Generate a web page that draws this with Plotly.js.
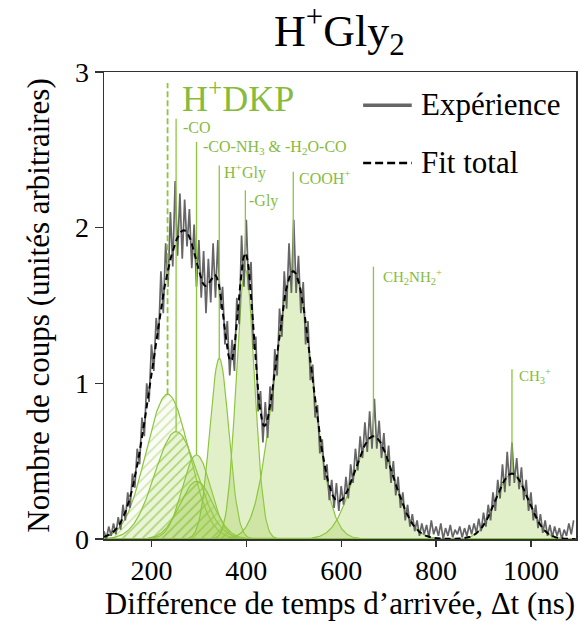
<!DOCTYPE html>
<html>
<head>
<meta charset="utf-8">
<script src="https://cdn.plot.ly/plotly-3.0.1.min.js"></script>
<style>html,body{margin:0;padding:0;background:#fff;}#chart{width:585px;height:637px;}</style>
</head>
<body>
<div id="chart"></div>
<script>
// ---------------- DATA ----------------
// Experimental spectrum: counts sampled every 5 ns starting at 100 ns
const expStart = 100;
const expStep = 5;
const expCounts = [
  0.05,0.00,0.08,0.02,0.10,0.03,0.14,0.06,0.22,0.12,0.30,0.20,0.42,0.33,0.58,0.48,0.78,0.66,1.00,0.88,
  1.25,1.08,1.42,1.28,1.72,1.45,1.90,1.62,2.10,1.75,2.30,1.82,2.22,1.80,2.18,1.88,2.12,1.74,2.02,1.62,
  1.92,1.55,1.85,1.45,1.80,1.52,1.90,1.55,1.92,1.48,1.62,1.25,1.40,1.05,1.28,1.08,1.55,1.38,1.95,1.62,
  2.05,1.60,1.78,1.22,1.30,0.82,0.95,0.62,0.88,0.65,0.98,0.82,1.22,1.05,1.48,1.30,1.72,1.48,1.90,1.58,
  2.05,1.58,1.82,1.45,1.65,1.25,1.40,1.02,1.12,0.78,0.86,0.55,0.64,0.38,0.48,0.25,0.38,0.20,0.36,0.18,
  0.34,0.22,0.40,0.26,0.48,0.36,0.58,0.44,0.66,0.52,0.75,0.56,0.82,0.58,0.90,0.58,0.76,0.52,0.68,0.45,
  0.60,0.36,0.50,0.28,0.40,0.20,0.30,0.12,0.22,0.08,0.16,0.05,0.12,0.02,0.10,0.03,0.09,0.01,0.12,0.03,
  0.08,0.02,0.10,0.00,0.07,0.02,0.09,0.01,0.06,0.03,0.08,0.01,0.07,0.02,0.09,0.03,0.10,0.04,0.13,0.05,
  0.17,0.08,0.22,0.12,0.30,0.18,0.38,0.26,0.48,0.30,0.56,0.34,0.62,0.36,0.52,0.32,0.46,0.25,0.38,0.18,
  0.30,0.12,0.22,0.07,0.16,0.04,0.12,0.02,0.09,0.01,0.08,0.02,0.07,0.00,0.06,0.02,0.10,0.03,0.12
];

// Fitted Gaussian components (centre ns, height, sigma ns)
const compNames   = ['H+DKP','-CO','-CO-NH3','-H2O-CO','H+Gly','-Gly','COOH+','CH2NH2+','CH3+'];
const compCenters = [234, 252, 295, 295, 343, 398, 499, 668, 960];
const compHeights = [0.93, 0.69, 0.54, 0.37, 1.16, 1.73, 1.72, 0.66, 0.42];
const compSigmas  = [45, 45, 30, 35, 20, 19, 40, 42, 34];

// Peak assignment markers
const markerLabels = ['H<sup>+</sup>DKP','-CO','-CO-NH<sub>3</sub> &amp; -H<sub>2</sub>O-CO','H<sup>+</sup>Gly','-Gly','COOH<sup>+</sup>','CH<sub>2</sub>NH<sub>2</sub><sup>+</sup>','CH<sub>3</sub><sup>+</sup>'];
const markerX      = [234, 252, 295, 343, 398, 499, 668, 960];
const markerTop    = [2.93, 2.70, 2.55, 2.40, 2.24, 2.36, 1.75, 1.09];
const markerComp   = [0, 1, 2, 4, 5, 6, 7, 8];

const legendNames = ['Expérience', 'Fit total'];
const xTicks = [200, 400, 600, 800, 1000];
const yTicks = [0, 1, 2, 3];

// ---------------- STYLE ----------------
const FONT = 'Liberation Serif';
const GREEN = '#8cc63f';
const GREEN_TXT = '#86bb3b';
const EXP_COLOR = '#666666';
const compHatched = [true, true, false, true, false, false, false, false, false];
const compFillAlpha = [0.06, 0.18, 0.30, 0.22, 0.30, 0.30, 0.30, 0.30, 0.30];
const markerDashed = [true, false, false, false, false, false, false, false];
const labelFont   = [36, 16, 16, 16, 16, 16, 15, 15];
const labelXShift = [12, 5, 4, 3, 2, 4, 8, 5];
const labelYShift = [-14, -9, -5, -6, -11, -5, -10, -7];

// ---------------- BUILD ----------------
const X_MIN = 100, X_MAX = 1095;
function gauss(x, c, h, s) { return h * Math.exp(-((x - c) * (x - c)) / (2 * s * s)); }

const gridX = [];
for (let x = X_MIN; x <= X_MAX; x += 2) gridX.push(x);

const traces = [];
compCenters.forEach((c, i) => {
  const ys = gridX.map(x => gauss(x, c, compHeights[i], compSigmas[i]));
  const t = {
    type: 'scatter', mode: 'lines', x: gridX, y: ys, name: compNames[i],
    showlegend: false, hoverinfo: 'skip',
    line: {color: GREEN, width: 1.2},
    fill: 'tozeroy',
    fillcolor: 'rgba(160,205,80,' + compFillAlpha[i] + ')'
  };
  if (compHatched[i]) {
    t.fillpattern = {shape: '/', fgcolor: GREEN, size: 7, solidity: 0.18, fillmode: 'overlay'};
  }
  traces.push(t);
});

const expX = expCounts.map((_, i) => expStart + i * expStep);
traces.push({
  type: 'scatter', mode: 'lines', x: expX, y: expCounts, name: legendNames[0],
  showlegend: false, line: {color: EXP_COLOR, width: 1.7}
});

markerX.forEach((mx, i) => {
  const ci = markerComp[i];
  traces.push({
    type: 'scatter', mode: 'lines', x: [mx, mx], y: [compHeights[ci], markerTop[i]],
    showlegend: false, hoverinfo: 'skip',
    line: {color: GREEN, width: markerDashed[i] ? 1.8 : 1.3, dash: markerDashed[i] ? '6px,3px' : 'solid'}
  });
});

const fitY = gridX.map(x => compCenters.reduce((s, c, i) => s + gauss(x, c, compHeights[i], compSigmas[i]), 0));
traces.push({
  type: 'scatter', mode: 'lines', x: gridX, y: fitY, name: legendNames[1],
  showlegend: false, line: {color: '#000', width: 2, dash: '6px,4px'}
});

const annotations = markerX.map((mx, i) => ({
  x: mx, y: markerTop[i], xref: 'x', yref: 'y',
  text: markerLabels[i], showarrow: false,
  xanchor: 'left', yanchor: 'middle',
  xshift: labelXShift[i], yshift: labelYShift[i],
  font: {family: FONT, size: labelFont[i], color: GREEN_TXT}
}));

// Legend drawn as key samples + labels in paper coordinates
const legendRowsY = [0.929, 0.805];
const legendSampleX = [0.549, 0.652];
const legendTextX = 0.668;
const shapes = [
  {type: 'line', xref: 'paper', yref: 'paper', x0: legendSampleX[0], x1: legendSampleX[1], y0: legendRowsY[0], y1: legendRowsY[0],
   line: {color: EXP_COLOR, width: 3.5}},
  {type: 'line', xref: 'paper', yref: 'paper', x0: legendSampleX[0], x1: legendSampleX[1], y0: legendRowsY[1], y1: legendRowsY[1],
   line: {color: '#000', width: 2.5, dash: '8px,4px'}}
];
legendNames.forEach((n, i) => annotations.push({
  x: legendTextX, y: legendRowsY[i], xref: 'paper', yref: 'paper', text: n, showarrow: false,
  xanchor: 'left', yanchor: 'middle', yshift: 1,
  font: {family: FONT, size: 31, color: '#000'}
}));

const layout = {
  width: 585, height: 637,
  margin: {l: 104, r: 9, t: 72, b: 98},
  paper_bgcolor: '#fff', plot_bgcolor: '#fff',
  font: {family: FONT, color: '#000', size: 28},
  title: {text: 'H<sup>+</sup>Gly<sub>2</sub>', x: 0.58, xanchor: 'center', y: 0.952, yanchor: 'middle',
          font: {family: FONT, size: 44, color: '#000'}},
  xaxis: {
    range: [X_MIN, X_MAX], tickvals: xTicks, ticks: 'outside', ticklen: 6, tickwidth: 1.2,
    tickcolor: '#333', showline: true, linecolor: '#333', linewidth: 1.5, mirror: true,
    showgrid: false, zeroline: false, tickfont: {family: FONT, size: 28, color: '#000'},
    title: {text: 'Différence de temps d’arrivée, Δt (ns)', font: {family: FONT, size: 31, color: '#000'}, standoff: 5}
  },
  yaxis: {
    range: [0, 3.0], tickvals: yTicks, ticks: 'outside', ticklen: 8, tickwidth: 1.2,
    tickcolor: '#333', showline: true, linecolor: '#333', linewidth: 1.5, mirror: true,
    showgrid: false, zeroline: false, tickfont: {family: FONT, size: 28, color: '#000'},
    title: {text: 'Nombre de coups (unités arbitraires)', font: {family: FONT, size: 31, color: '#000'}, standoff: 16}
  },
  shapes: shapes,
  annotations: annotations,
  showlegend: false
};

Plotly.newPlot('chart', traces, layout, {staticPlot: true, displayModeBar: false});
</script>
</body>
</html>
